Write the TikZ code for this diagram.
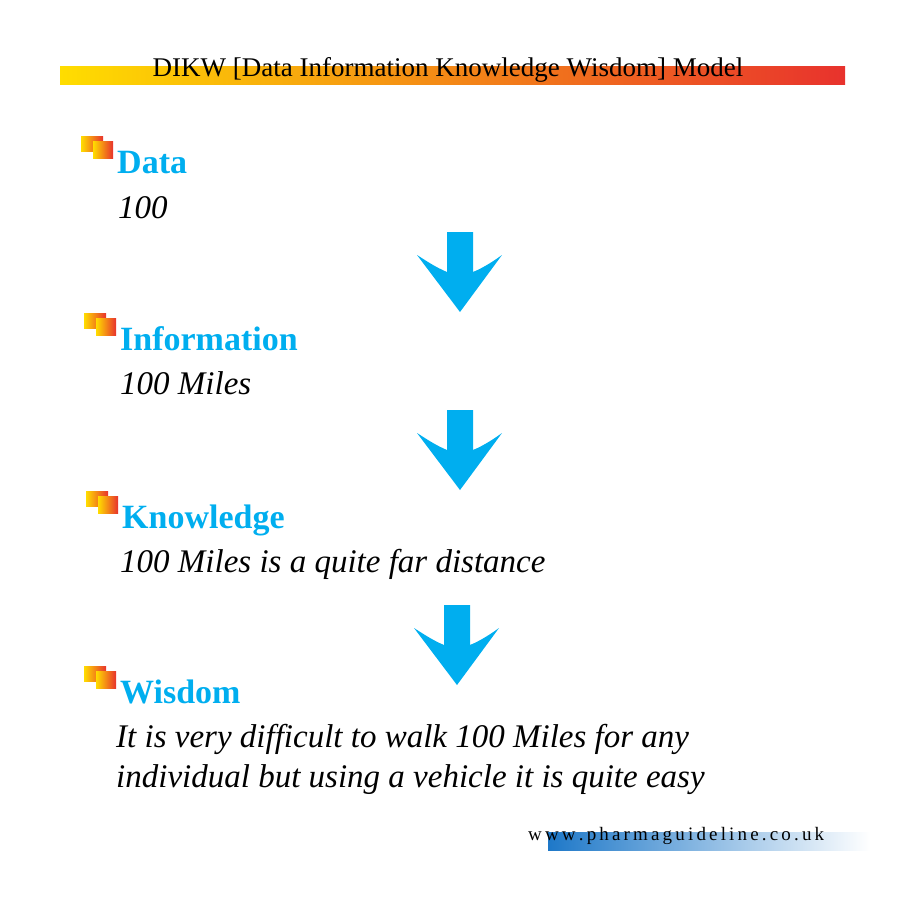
\documentclass[tikz,border=0pt]{standalone}
\usepackage{fontspec}
\setmainfont{Liberation Serif}
\usetikzlibrary{positioning}
\definecolor{dikwcyan}{RGB}{0,174,239}
\definecolor{dikwred}{RGB}{232,50,45}
\definecolor{dikwyel}{RGB}{255,221,0}
\definecolor{dikwblue}{RGB}{30,120,200}
\tikzset{
  head/.style={anchor=base west,inner sep=0pt,text=dikwcyan,font=\fontsize{34}{34}\selectfont\bfseries},
  body/.style={anchor=base west,inner sep=0pt,font=\fontsize{33}{40}\selectfont\itshape},
  sq/.style={left color=dikwyel,right color=dikwred,draw=none},
  downarrow/.pic={\fill[dikwcyan] (-13,0) -- (13,0) -- (13,40) .. controls (25,35) and (35,28) .. (42,23)
      -- (0,80) -- (-43,23) .. controls (-35,28) and (-25,35) .. (-13,40) -- cycle;}
}
\newcommand{\bullsq}[1]{%
  \fill[sq] ([xshift=-36pt,yshift=22pt]#1.base west) rectangle ++(22,-15);
  \fill[sq] ([xshift=-24pt,yshift=15pt]#1.base west) rectangle ++(20,-17);}
\begin{document}
\begin{tikzpicture}[x=1pt,y=-1pt]
    \useasboundingbox (0,0) rectangle (923,900);
    % title
    \shade[left color=dikwyel,right color=dikwred] (60,66) rectangle (845,84);
    \node(title) at (448,70) {\fontsize{27}{27}\selectfont DIKW [Data Information Knowledge Wisdom] Model};
    % levels
    \node[head](data) at (117,173) {Data};
    \node[body](datatxt) at (118,218) {100};
    \node[head](info) at (120,350) {Information};
    \node[body](infotxt) at (120,394) {100 Miles};
    \node[head](know) at (122,528) {Knowledge};
    \node[body](knowtxt) at (120,572) {100 Miles is a quite far distance};
    \node[head](wis) at (120,703) {Wisdom};
    \node[body,align=left,anchor=north west](wistxt) at (116,724) {It is very difficult to walk 100 Miles for any\\individual but using a vehicle it is quite easy};
    \bullsq{data} \bullsq{info} \bullsq{know} \bullsq{wis}
    % arrows
    \pic at (460,232) {downarrow};
    \pic at (460,410) {downarrow};
    \pic at (457,605) {downarrow};
    % footer
    \shade[left color=dikwblue,right color=white] (548,832) rectangle (870,850);
    \node[anchor=base west,inner sep=0pt](web) at (528,840) {\fontsize{19}{19}\selectfont w\,w\,w\,.\,p\,h\,a\,r\,m\,a\,g\,u\,i\,d\,e\,l\,i\,n\,e\,.\,c\,o\,.\,u\,k};
\end{tikzpicture}
\end{document}
